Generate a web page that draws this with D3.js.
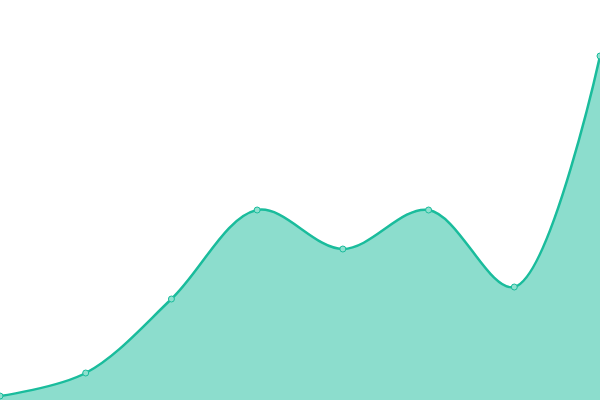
<!DOCTYPE html>
<html>
<head>
<meta charset="utf-8">
<script src="https://cdn.jsdelivr.net/npm/d3@7"></script>
<style>
  html, body { margin: 0; padding: 0; background: #fff; }
  svg { display: block; }
</style>
</head>
<body>
<svg id="chart" width="600" height="400"></svg>
<script>
// chart data
const labels = ["1", "2", "3", "4", "5", "6", "7", "8"];
const values = [1, 6.75, 25.25, 47.5, 37.75, 47.5, 28.25, 86];

const width = 600;
const height = 400;
const lineColor = "#1abc9c";

const svg = d3.select("#chart");

const x = d3.scalePoint().domain(labels).range([0, width]);
const y = d3.scaleLinear().domain([0, 100]).range([height, 0]);

const curve = d3.curveCatmullRom.alpha(0.5);

const area = d3.area()
    .x((d, i) => x(labels[i]))
    .y0(height)
    .y1((d) => y(d))
    .curve(curve);

const line = d3.line()
    .x((d, i) => x(labels[i]))
    .y((d) => y(d))
    .curve(curve);

svg.append("path")
    .datum(values)
    .attr("d", area)
    .attr("fill", lineColor)
    .attr("fill-opacity", 0.5);

svg.append("path")
    .datum(values)
    .attr("d", line)
    .attr("fill", "none")
    .attr("stroke", lineColor)
    .attr("stroke-width", 2.5);

svg.append("g")
    .selectAll("circle")
    .data(values)
    .join("circle")
    .attr("cx", (d, i) => x(labels[i]))
    .attr("cy", (d) => y(d))
    .attr("r", 3)
    .attr("fill", "#8fe0cf")
    .attr("stroke", lineColor)
    .attr("stroke-width", 1);
</script>
</body>
</html>
